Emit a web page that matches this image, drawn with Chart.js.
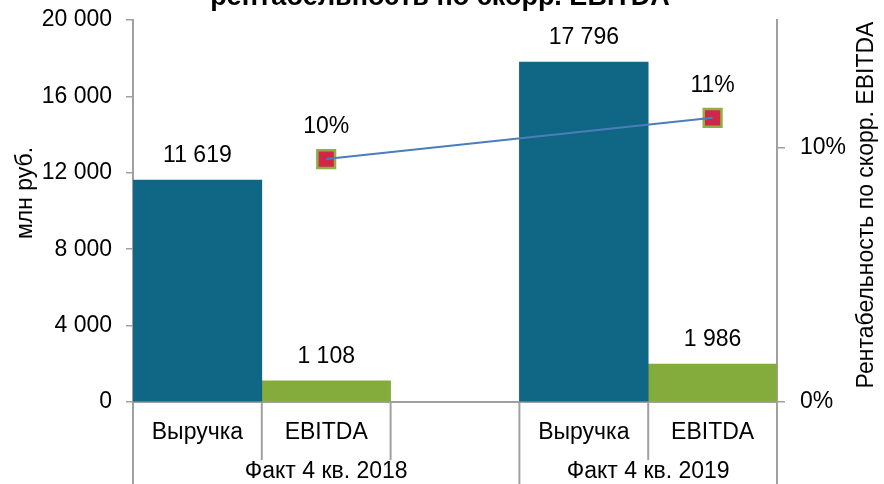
<!DOCTYPE html>
<html>
<head>
<meta charset="utf-8">
<script src="https://cdn.jsdelivr.net/npm/chart.js@4"></script>
<style>
  html, body { margin: 0; padding: 0; background: #fff; }
  #wrap { width: 884px; height: 484px; position: relative; overflow: hidden; }
</style>
</head>
<body>
<div id="wrap"><canvas id="c" width="884" height="484"></canvas></div>
<script>
// ---- data ----
const categories = ['Выручка', 'EBITDA', '', 'Выручка', 'EBITDA'];
const groupLabels = ['Факт 4 кв. 2018', 'Факт 4 кв. 2019'];
const groupOfCategory = [0, 0, 0, 1, 1];
const revenue = [11619, 17796];        // млн руб.
const ebitda = [1108, 1986];           // млн руб.
const margin = [9.54, 11.16];          // %
const leftTicks = [0, 4000, 8000, 12000, 16000, 20000];
const rightTicks = [0, 10];
const titleText = 'рентабельность по скорр. EBITDA';
const leftTitle = 'млн руб.';
const rightTitle = 'Рентабельность по скорр. EBITDA';

// slot mapping: revenue, ebitda, gap, revenue, ebitda
const revSlots = [revenue[0], null, null, revenue[1], null];
const ebSlots = [null, ebitda[0], null, null, ebitda[1]];
const marginSlots = [null, margin[0], null, null, margin[1]];

const FONT = "'Liberation Sans', Arial, sans-serif";
const FS = 23;
const AXIS = '#a0a0a0';
Chart.defaults.font.family = FONT;
Chart.defaults.font.size = FS;
Chart.defaults.color = '#000';

function fmtThousands(v) {
  return String(Math.round(v)).replace(/\B(?=(\d{3})+(?!\d))/g, ' ');
}

const extras = {
  id: 'extras',
  afterDatasetsDraw(chart) {
    const ctx = chart.ctx;
    ctx.save();
    ctx.font = FS + 'px ' + FONT;
    ctx.fillStyle = '#000';
    ctx.textAlign = 'center';
    ctx.textBaseline = 'middle';
    [0, 1].forEach(di => {
      const meta = chart.getDatasetMeta(di);
      meta.data.forEach((el, i) => {
        const v = chart.data.datasets[di].data[i];
        if (v == null) return;
        ctx.fillText(fmtThousands(v), el.x, el.y - 24);
      });
    });
    const pm = chart.getDatasetMeta(3);
    pm.data.forEach((el, i) => {
      const v = chart.data.datasets[3].data[i];
      if (v == null) return;
      ctx.fillText(Math.round(v) + '%', el.x, el.y - 32);
    });
    ctx.restore();
  },
  afterDraw(chart) {
    const ctx = chart.ctx;
    const ca = chart.chartArea;
    const xs = chart.scales.x;
    const n = categories.length;
    const step = (ca.right - ca.left) / n;
    ctx.save();
    ctx.strokeStyle = AXIS;
    ctx.lineWidth = 2;
    // category boundaries
    for (let i = 0; i <= n; i++) {
      const bx = i === 0 ? ca.left : (i === n ? ca.right : (xs.getPixelForTick(i - 1) + xs.getPixelForTick(i)) / 2);
      const isGroupEdge = i === 0 || i === n || groupOfCategory[i] !== groupOfCategory[i - 1];
      ctx.beginPath();
      ctx.moveTo(bx, ca.bottom);
      ctx.lineTo(bx, isGroupEdge ? chart.height : ca.bottom + 58);
      ctx.stroke();
    }
    // group labels
    ctx.font = FS + 'px ' + FONT;
    ctx.fillStyle = '#000';
    ctx.textAlign = 'center';
    ctx.textBaseline = 'middle';
    groupLabels.forEach((g, gi) => {
      const idx = groupOfCategory.map((v, i) => v === gi ? i : -1).filter(i => i >= 0);
      const first = idx[0], last = idx[idx.length - 1];
      const l = xs.getPixelForTick(first) - step / 2;
      const r = xs.getPixelForTick(last) + step / 2;
      ctx.fillText(g, (l + r) / 2, ca.bottom + 70);
    });
    // axis titles
    ctx.save();
    ctx.translate(26, 193);
    ctx.rotate(-Math.PI / 2);
    ctx.fillText(leftTitle, 0, 0);
    ctx.restore();
    ctx.save();
    ctx.translate(867, 205);
    ctx.rotate(-Math.PI / 2);
    ctx.fillText(rightTitle, 0, 0);
    ctx.restore();
    // chart title (cut off at top)
    ctx.font = 'bold 27px ' + FONT;
    ctx.textBaseline = 'alphabetic';
    ctx.fillText(titleText, 440, 5);
    ctx.restore();
  }
};

function fixV(w) {
  return function (a) { a.width = w; a.paddingTop = 0; a.paddingBottom = 0; };
}

new Chart(document.getElementById('c'), {
  data: {
    labels: categories,
    datasets: [
      { type: 'bar', label: 'Выручка', data: revSlots, backgroundColor: '#0f6785', yAxisID: 'y',
        grouped: false, barPercentage: 1, categoryPercentage: 1, order: 3 },
      { type: 'bar', label: 'EBITDA', data: ebSlots, backgroundColor: '#84ac3d', yAxisID: 'y',
        grouped: false, barPercentage: 1, categoryPercentage: 1, order: 3 },
      { type: 'line', label: 'line', data: marginSlots, yAxisID: 'y1', spanGaps: true,
        borderColor: '#4a7ebb', borderWidth: 2, pointRadius: 0, order: 0 },
      { type: 'line', label: 'Рентабельность', data: marginSlots, yAxisID: 'y1', showLine: false,
        pointStyle: 'rect', pointRadius: 12.5, pointBackgroundColor: '#d0264a',
        pointBorderColor: '#8cb043', pointBorderWidth: 2.5, order: 1 }
    ]
  },
  options: {
    responsive: false,
    animation: false,
    events: [],
    layout: { padding: { left: 0, right: 0, top: 20, bottom: 0 } },
    plugins: { legend: { display: false }, tooltip: { enabled: false }, title: { display: false } },
    scales: {
      x: {
        type: 'category',
        offset: true,
        grid: { display: false, drawTicks: false },
        border: { display: true, color: AXIS, width: 2 },
        ticks: { padding: 17, maxRotation: 0, autoSkip: false, font: { size: FS } },
        afterFit(a) { a.height = 82; a.paddingLeft = 0; a.paddingRight = 0; }
      },
      y: {
        position: 'left',
        min: 0, max: 20000,
        afterBuildTicks(a) { a.ticks = leftTicks.map(v => ({ value: v })); },
        ticks: { padding: 14, callback: v => fmtThousands(v), font: { size: FS } },
        grid: { display: true, drawOnChartArea: false, drawTicks: true, tickLength: 7, color: AXIS, lineWidth: 1.5 },
        border: { display: true, color: AXIS, width: 2 },
        afterFit: fixV(133)
      },
      y1: {
        position: 'right',
        min: 0, max: 15,
        afterBuildTicks(a) { a.ticks = rightTicks.map(v => ({ value: v })); },
        ticks: { padding: 15, callback: v => v + '%', font: { size: FS } },
        grid: { display: true, drawOnChartArea: false, drawTicks: true, tickLength: 8, color: AXIS, lineWidth: 1.5 },
        border: { display: true, color: AXIS, width: 2 },
        afterFit: fixV(107)
      }
    }
  },
  plugins: [extras]
});
</script>
</body>
</html>
